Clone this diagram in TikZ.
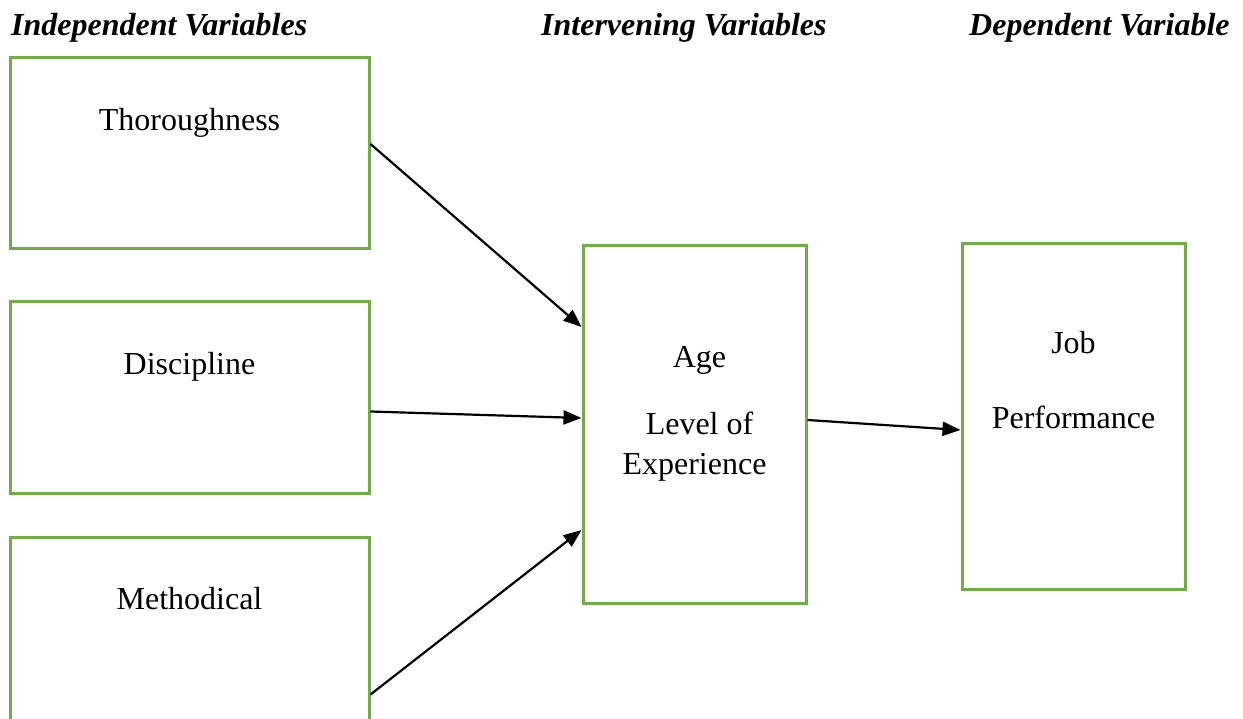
\documentclass[tikz,border=0pt]{standalone}
\usepackage{fontspec}
\setmainfont{Liberation Serif}
\usetikzlibrary{positioning,arrows.meta}
\definecolor{boxgreen}{RGB}{112,173,71}
\begin{document}
\begin{tikzpicture}[x=1pt, y=-1pt, >={Triangle[length=18pt, width=14pt]}, every node/.style={font=\fontsize{32}{40}\selectfont}]
    \tikzstyle{var} = [rectangle, draw=boxgreen, line width=3pt, minimum width=359pt, minimum height=191pt, inner sep=0pt]
    \tikzstyle{mid} = [rectangle, draw=boxgreen, line width=3pt, minimum width=223pt, inner sep=0pt]
    \tikzstyle{txt} = [anchor=base, inner sep=0pt]
    \tikzstyle{head} = [anchor=base west, inner sep=0pt, font=\fontsize{32}{40}\selectfont\bfseries\itshape]
    \tikzstyle{link} = [->, line width=2.2pt]

    \useasboundingbox (0,0) rectangle (1243,719);

    % column headings
    \node [head] (hind) at (11,36) {Independent Variables};
    \node [head] (hint) at (541,36) {Intervening Variables};
    \node [head] (hdep) at (969,36) {Dependent Variable};

    % independent variables
    \node [var] (thor) at (189.5,153.5) {};
    \node [var, below=50pt of thor] (disc) {};
    \node [var, below=41pt of disc] (meth) {};
    \node [txt] (thortxt) at ([yshift=-74pt]thor.north) {Thoroughness};
    \node [txt] (disctxt) at ([yshift=-74pt]disc.north) {Discipline};
    \node [txt] (methtxt) at ([yshift=-74pt]meth.north) {Methodical};

    % intervening and dependent
    \node [mid, minimum height=357pt] (age) at (694.5,424.5) {};
    \node [mid, minimum height=345pt] (perf) at (1073.5,416.5) {};
    \node [txt] (agetxt) at ([xshift=5pt, yshift=-123pt]age.north) {Age};
    \node [txt] (leveltxt) at ([xshift=5pt, yshift=-190pt]age.north) {Level of};
    \node [txt] (exptxt) at ([yshift=-230pt]age.north) {Experience};
    \node [txt] (jobtxt) at ([yshift=-111pt]perf.north) {Job};
    \node [txt] (perftxt) at ([yshift=-186pt]perf.north) {Performance};

    \draw [link] ([yshift=9.5pt]thor.east) -- ([yshift=97.5pt]age.west);
    \draw [link] ([yshift=-14pt]disc.east) -- ([yshift=6.5pt]age.west);
    \draw [link] ([yshift=-62pt]meth.east) -- ([yshift=-105.5pt]age.west);
    \draw [link] ([yshift=4.5pt]age.east) -- ([yshift=-13.5pt]perf.west);
\end{tikzpicture}
\end{document}
